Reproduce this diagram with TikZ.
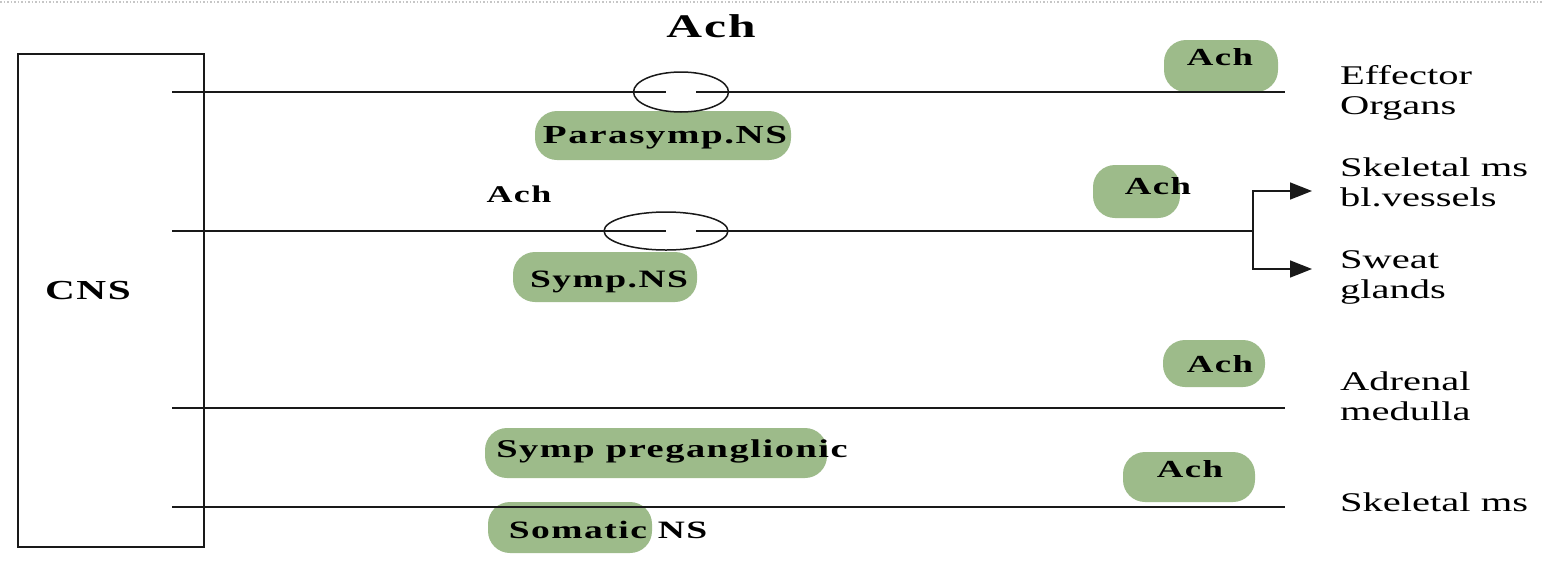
\documentclass[tikz,border=0pt]{standalone}
\usepackage{fontspec}
\setmainfont{Liberation Serif}[FakeStretch=1.5]
\newfontfamily\boldlbl{Liberation Serif}[FakeStretch=1.5,LetterSpace=6]
\usetikzlibrary{shapes.geometric,arrows.meta}
\definecolor{hl}{RGB}{157,187,138}
\definecolor{ink}{RGB}{25,25,25}
\tikzset{
  nerve/.style={line width=1.6pt, draw=ink},
  blob/.style={fill=hl, rounded corners=22pt},
  ganglion/.style={ellipse, draw=ink, line width=1.5pt, inner sep=0pt},
  rlabel/.style={anchor=base west, align=left, inner sep=0pt, font=\fontsize{27}{30}\selectfont},
  blabel/.style={anchor=base, inner sep=0pt, font=\boldlbl\bfseries\fontsize{25}{28}\selectfont},
  achlbl/.style={blabel, font=\boldlbl\bfseries\fontsize{24.5}{26}\selectfont},
  tip/.style={-{Triangle[length=22pt,width=17pt]}}
}
\begin{document}
\begin{tikzpicture}[x=1pt,y=-1pt]
\useasboundingbox (0,0) rectangle (1544,563);
\draw[gray!45, dotted, line width=1.5pt] (0,2) -- (1544,2);

% highlighter blobs
\fill[blob] (1164,40) rectangle (1278,92);
\fill[blob] (1093,165) rectangle (1180,218);
\fill[blob] (535,111) rectangle (791,160);
\fill[blob] (513,252) rectangle (697,302);
\fill[blob] (1163,340) rectangle (1265,387);
\fill[blob] (485,428) rectangle (827,478);
\fill[blob] (1123,452) rectangle (1255,502);
\fill[blob] (488,502) rectangle (652,553);

% CNS box
\node[draw=ink, line width=1.6pt, minimum width=186pt, minimum height=493pt, anchor=north west, inner sep=0pt] (cns) at (17,53) {};
\node[blabel, font=\boldlbl\bfseries\fontsize{27.5}{30}\selectfont] (cnslbl) at (88,299) {CNS};

% ganglia
\node[ganglion, minimum width=95pt, minimum height=40pt] (g1) at (681,92) {};
\node[ganglion, minimum width=124pt, minimum height=38pt] (g2) at (666,231) {};

% coordinates
\coordinate (p1s) at (172,92);  \coordinate (p1l) at (666,92);  \coordinate (p1r) at (696,92);  \coordinate (p1e) at (1285,92);
\coordinate (p2s) at (172,231); \coordinate (p2l) at (666,231); \coordinate (p2r) at (696,231); \coordinate (br) at (1253,231);
\coordinate (a1) at (1312,191); \coordinate (a2) at (1312,269);
\coordinate (p3s) at (172,408); \coordinate (p3e) at (1285,408);
\coordinate (p4s) at (172,507); \coordinate (p4e) at (1285,507);

% nerves
\draw[nerve] (p1s) -- (p1l);
\draw[nerve] (p1r) -- (p1e);
\draw[nerve] (p2s) -- (p2l);
\draw[nerve] (p2r) -- (br);
\draw[nerve, tip] (br) |- (a1);
\draw[nerve, tip] (br) |- (a2);
\draw[nerve] (p3s) -- (p3e);
\draw[nerve] (p4s) -- (p4e);

% bold labels
\node[blabel, font=\boldlbl\bfseries\fontsize{33}{36}\selectfont] (achtop) at (711,37) {Ach};
\node[blabel, font=\boldlbl\bfseries\fontsize{26}{28}\selectfont] (para) at (665,143) {Parasymp.NS};
\node[achlbl, font=\boldlbl\bfseries\fontsize{24}{26}\selectfont] (achs) at (519,202) {Ach};
\node[achlbl] (ach1) at (1220,65) {Ach};
\node[achlbl] (ach2) at (1158,194) {Ach};
\node[blabel] (symp) at (609,287) {Symp.NS};
\node[achlbl] (ach3) at (1220,372) {Ach};
\node[blabel, font=\boldlbl\bfseries\fontsize{25.6}{28}\selectfont] (pregang) at (672,457) {Symp preganglionic};
\node[achlbl] (ach4) at (1190,477) {Ach};
\node[blabel] (somatic) at (608,538) {Somatic NS};

% targets (base anchor is the baseline of the last line)
\node[rlabel] (effector) at (1340,114) {Effector\\Organs};
\node[rlabel] (skel) at (1340,206) {Skeletal ms\\bl.vessels};
\node[rlabel] (sweat) at (1340,298) {Sweat\\glands};
\node[rlabel] (adrenal) at (1340,420) {Adrenal\\medulla};
\node[rlabel] (skel2) at (1340,511) {Skeletal ms};
\end{tikzpicture}
\end{document}
